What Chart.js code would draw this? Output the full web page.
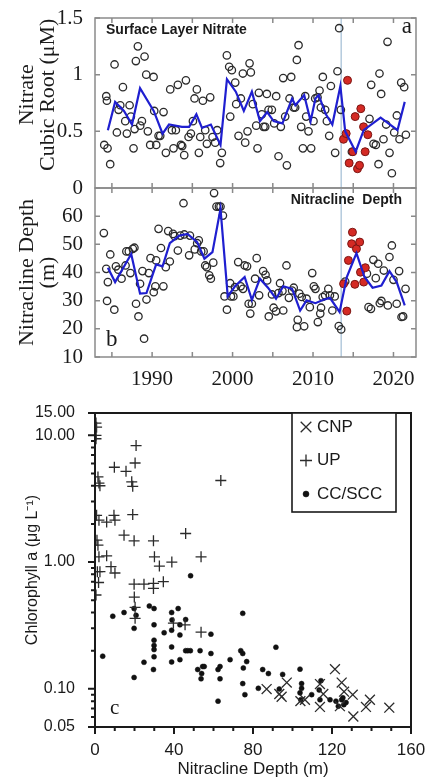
<!DOCTYPE html>
<html>
<head>
<meta charset="utf-8">
<script src="https://cdn.jsdelivr.net/npm/chart.js@4.4.4/dist/chart.umd.min.js"></script>
<style>
  html, body { margin: 0; padding: 0; background: #fff; }
  #wrap { position: relative; width: 427px; height: 778px; overflow: hidden; }
  canvas { position: absolute; left: 0; }
</style>
</head>
<body>
<div id="wrap">
  <canvas id="chart-nitrate" width="427" height="210" style="top:0px"></canvas>
  <canvas id="chart-depth" width="427" height="225" style="top:170px"></canvas>
  <canvas id="chart-chl" width="427" height="388" style="top:390px"></canvas>
</div>
<script>
// ─── Axis ticks ──────────────────────────────────────────────────────────────
const YEAR_TICKS    = [1985, 1990, 1995, 2000, 2005, 2010, 2015, 2020];
const NITRATE_TICKS = [0, 0.5, 1, 1.5];
const DEPTH_TICKS   = [10, 20, 30, 40, 50, 60, 70];
const NCD_TICKS     = [0, 10, 20, 30, 40, 50, 60, 70, 80, 90, 100, 110, 120, 130, 140, 150, 160];
const CHL_TICKS     = [0.05, 0.06, 0.07, 0.08, 0.09, 0.1, 0.2, 0.3, 0.4, 0.5, 0.6, 0.7, 0.8, 0.9,
                       1, 2, 3, 4, 5, 6, 7, 8, 9, 10, 15];
const CHL_LABELLED  = [0.05, 0.1, 1, 10, 15];
const BLOB_YEAR     = 2013.5;   // start of the warm anomaly (vertical line)

// ─── Panel a: surface layer nitrate (cubic root, µM) ─────────────────────────
const nitrateObs = [
  [1984.05,0.38],[1984.46,0.35],[1984.30,0.81],[1984.38,0.77],[1984.79,0.21],[1985.33,1.09],
  [1985.62,0.49],[1985.83,0.69],[1986.04,0.73],[1986.37,0.89],[1986.66,0.59],[1986.86,0.48],
  [1987.20,0.73],[1987.36,0.63],[1987.69,0.35],[1987.82,0.52],[1987.98,1.12],[1988.23,1.25],
  [1988.52,0.55],[1988.73,0.59],[1989.06,1.16],[1989.27,1.00],[1989.47,0.50],[1989.76,0.38],
  [1990.18,0.98],[1990.26,0.68],[1990.51,0.38],[1990.80,0.46],[1991.01,0.46],[1991.42,0.67],
  [1991.71,0.31],[1992.25,0.87],[1992.46,0.51],[1992.66,0.35],[1992.95,0.51],[1993.20,0.91],
  [1993.58,0.38],[1993.74,0.37],[1994.20,0.95],[1993.99,0.29],[1994.53,0.45],[1994.82,0.48],
  [1995.07,0.59],[1995.27,0.79],[1995.56,0.87],[1995.81,0.31],[1995.98,0.45],[1996.31,0.77],
  [1996.60,0.51],[1996.81,0.39],[1997.22,0.80],[1997.51,0.45],[1997.84,0.40],[1998.09,0.51],
  [1998.46,0.22],[1998.67,0.31],[1999.29,1.17],[1999.58,1.07],[1999.91,1.04],[1999.71,0.63],
  [2000.33,0.93],[2000.45,0.74],[2000.74,0.46],[2001.03,0.79],[2001.28,1.01],[2001.57,0.40],
  [2001.86,0.50],[2002.11,1.10],[2002.27,1.02],[2002.52,0.74],[2002.94,0.55],[2003.10,0.35],
  [2003.27,0.84],[2003.64,0.65],[2003.85,0.54],[2004.06,0.54],[2004.26,0.83],[2004.47,0.69],
  [2004.88,0.69],[2005.17,0.57],[2005.42,0.81],[2005.71,0.28],[2006.00,0.54],[2006.29,0.97],
  [2006.54,0.63],[2006.75,0.20],[2007.08,0.79],[2007.29,0.98],[2007.58,0.71],[2007.78,0.71],
  [2007.99,1.13],[2008.20,1.26],[2008.53,0.54],[2008.74,0.35],[2009.03,0.81],[2009.15,0.63],
  [2009.44,0.50],[2009.77,0.35],[2010.06,0.59],[2010.27,0.79],[2010.56,0.80],[2010.81,0.86],
  [2010.97,0.71],[2011.22,0.98],[2011.51,0.69],[2011.72,0.59],[2012.01,0.46],[2012.22,0.90],
  [2012.75,0.31],[2013.04,1.03],[2013.25,1.41],[2013.46,0.69],[2014.83,0.32],[2017.02,0.61],
  [2017.23,0.91],[2017.52,0.39],[2017.81,0.38],[2018.14,0.21],[2018.26,1.01],[2018.47,0.83],
  [2018.76,0.43],[2019.09,0.56],[2019.26,1.29],[2019.51,0.31],[2019.80,0.13],[2020.09,0.49],
  [2020.42,0.64],[2020.75,0.43],[2020.96,0.93],[2021.33,0.89],[2021.54,0.47]
];
const nitrateBlob = [
  [2014.29,0.95],[2013.79,0.43],[2014.12,0.48],[2014.49,0.22],[2014.95,0.32],[2015.24,0.63],
  [2015.53,0.17],[2015.78,0.20],[2015.94,0.70],[2016.28,0.54],[2016.48,0.32],[2016.81,0.47]
];
const nitrateMean = [
  [1984.5,0.51],[1985.4,0.76],[1986.5,0.68],[1987.5,0.56],[1988.5,0.88],[1990.2,0.68],
  [1991.3,0.48],[1992.1,0.56],[1993.7,0.54],[1994.6,0.54],[1995.5,0.65],[1996.2,0.53],
  [1997.3,0.56],[1998.5,0.38],[1999.3,0.96],[2000.4,0.85],[2001.4,0.68],[2002.4,0.85],
  [2003.4,0.59],[2004.3,0.67],[2005.1,0.59],[2006.2,0.57],[2007.4,0.79],[2007.8,0.73],
  [2008.9,0.82],[2009.7,0.59],[2010.3,0.79],[2010.7,0.82],[2011.6,0.65],[2012.4,0.56],
  [2013.4,0.90],[2014.0,0.50],[2015.3,0.32],[2016.3,0.51],[2018.4,0.62],[2020.5,0.51],
  [2021.4,0.76]
];

// ─── Panel b: nitracline depth (m) ───────────────────────────────────────────
const depthObs = [
  [1984.0,54.0],[1984.3,41.3],[1984.5,36.6],[1984.4,29.9],[1984.8,46.4],[1985.3,26.8],
  [1985.5,42.2],[1985.8,41.0],[1986.2,37.8],[1986.7,42.5],[1986.8,47.5],[1987.1,47.5],
  [1987.3,39.8],[1987.6,48.4],[1987.8,48.8],[1988.0,28.9],[1988.3,24.4],[1988.5,36.0],
  [1988.8,40.5],[1989.0,16.5],[1989.3,30.4],[1989.6,39.8],[1989.8,45.1],[1990.2,33.0],
  [1990.4,35.1],[1990.5,44.3],[1990.8,55.5],[1991.1,48.7],[1991.4,35.1],[1991.7,41.9],
  [1992.0,54.7],[1992.2,43.9],[1992.6,53.7],[1992.8,52.9],[1993.2,47.8],[1993.5,53.1],
  [1993.9,64.6],[1994.0,53.5],[1994.6,46.1],[1994.7,53.1],[1995.3,48.2],[1995.6,50.4],
  [1995.8,51.4],[1996.1,47.5],[1996.4,47.5],[1996.6,42.5],[1996.8,41.9],[1997.1,39.0],
  [1997.3,37.8],[1997.6,43.5],[1997.7,68.2],[1998.0,63.4],[1998.3,63.4],[1998.5,63.4],
  [1998.8,60.2],[1999.0,31.5],[1999.3,26.8],[1999.7,36.2],[1999.8,31.5],[2000.1,31.5],
  [2000.3,34.8],[2000.7,43.7],[2001.0,35.1],[2001.3,34.2],[2001.5,42.5],[2001.8,42.2],
  [2002.0,28.9],[2002.2,25.4],[2002.4,28.9],[2002.8,37.8],[2003.0,45.1],[2003.3,31.9],
  [2003.8,40.5],[2004.1,39.2],[2004.3,37.2],[2004.5,24.4],[2004.9,32.2],[2005.1,27.5],
  [2005.4,26.2],[2005.7,32.7],[2005.9,36.2],[2006.2,33.4],[2006.3,26.5],[2006.7,42.5],
  [2007.0,31.0],[2007.4,33.6],[2007.6,34.6],[2008.0,20.6],[2008.1,23.2],[2008.3,32.5],
  [2008.6,31.3],[2008.9,20.9],[2009.2,30.7],[2009.6,27.7],[2009.9,39.8],[2010.1,35.1],
  [2010.3,34.2],[2010.6,22.4],[2010.9,25.4],[2011.0,27.5],[2011.2,31.3],[2011.5,31.9],
  [2011.9,34.2],[2012.1,31.9],[2012.4,26.5],[2012.7,31.5],[2013.2,21.0],[2013.5,19.8],
  [2014.0,36.8],[2016.7,39.6],[2016.9,27.7],[2017.2,27.1],[2017.5,44.5],[2017.8,38.0],
  [2018.1,43.1],[2018.3,29.1],[2018.5,29.9],[2018.8,40.7],[2019.3,28.3],[2019.5,45.5],
  [2019.8,49.6],[2020.0,37.4],[2020.4,28.9],[2020.7,40.5],[2021.0,24.2],[2021.2,24.4],
  [2021.5,34.2]
];
const depthBlob = [
  [2013.8,36.0],[2014.2,26.3],[2014.4,44.3],[2014.9,54.3],[2014.8,50.2],[2015.2,35.8],
  [2015.4,48.4],[2015.8,50.8],[2015.9,40.1],[2016.3,36.6],[2016.5,41.7]
];
const depthMean = [
  [1984.5,41.7],[1985.4,36.6],[1987.4,46.6],[1988.5,32.5],[1989.3,32.7],[1990.5,42.9],
  [1991.3,42.2],[1992.2,50.4],[1993.4,53.1],[1994.4,53.7],[1995.6,50.8],[1996.5,44.9],
  [1997.5,47.2],[1998.5,62.6],[1999.4,31.5],[2000.3,35.1],[2001.5,38.4],[2002.4,30.3],
  [2003.4,37.8],[2004.4,34.6],[2005.4,30.7],[2006.3,35.1],[2007.4,34.2],[2008.4,26.5],
  [2009.2,30.1],[2010.3,29.1],[2011.3,30.3],[2012.1,31.0],[2013.3,26.0],[2014.2,38.4],
  [2015.4,46.9],[2016.4,38.4],[2017.4,34.6],[2018.5,35.4],[2019.5,40.5],[2020.4,36.6],
  [2021.4,28.3]
];

// ─── Panel c: chlorophyll a vs nitracline depth ──────────────────────────────
const chlCNP = [
  [86.9,0.0996],[93.3,0.091],[94.5,0.0866],[97.1,0.112],[106.3,0.082],[113.9,0.109],
  [113.9,0.072],[121.5,0.143],[124.9,0.112],[126.1,0.095],[130.5,0.090],[130.8,0.0605],
  [137.2,0.072],[139.2,0.082],[149.0,0.071],[124.0,0.073],[115.6,0.091],[104.0,0.080]
];
const chlUP = [
  [0.5,12.5],[0.8,11.6],[0.5,10],[0.5,9.4],[1.5,4.7],[2.5,4.0],[2,4.2],[0.8,2.34],[2,2.14],
  [1,1.49],[1.5,1.36],[2,1.10],[1.2,0.84],[2.5,0.84],[1.8,0.69],[0.5,0.55],[5.9,1.12],
  [5.9,2.07],[9.6,2.34],[10.1,2.14],[8.1,0.92],[10.1,0.82],[9.8,5.6],[15.7,5.2],[18.6,4.3],
  [19.1,3.96],[20.3,6.05],[20.8,8.3],[19.1,2.37],[14.7,1.63],[19.8,1.47],[29.6,1.47],
  [30.1,1.10],[32.6,0.93],[38.9,1.0],[45.9,1.68],[53.7,1.10],[63.7,4.4],[34.6,0.70],
  [24.8,0.67],[19.8,0.67],[29.6,0.68],[29.6,0.62],[19.9,0.53],[20.3,0.44],[20.3,0.36],
  [39.7,0.33],[45.6,0.32],[53.7,0.28]
];
const chlCC = [
  [9.0,0.374],[3.9,0.181],[14.7,0.40],[19.8,0.43],[20.8,0.38],[19.8,0.30],[19.8,0.123],
  [24.8,0.162],[27.5,0.45],[29.9,0.43],[29.9,0.32],[29.9,0.242],[29.9,0.22],[29.9,0.204],
  [29.9,0.179],[29.6,0.142],[35.0,0.277],[38.8,0.40],[39.0,0.35],[38.8,0.29],[38.8,0.214],
  [38.8,0.163],[42.1,0.43],[43.0,0.32],[43.0,0.266],[43.0,0.17],[45.9,0.352],[45.9,0.2],
  [47.0,0.2],[48.3,0.2],[48.4,0.78],[53.2,0.2],[52.0,0.142],[54.0,0.132],[54.5,0.15],
  [53.7,0.12],[55.3,0.15],[58.7,0.27],[58.7,0.19],[62.3,0.142],[63.3,0.15],[63.3,0.12],
  [62.3,0.08],[68.4,0.17],[73.8,0.2],[74.8,0.19],[74.8,0.394],[76.8,0.164],[75.1,0.146],
  [74.8,0.11],[75.9,0.09],[82.7,0.101],[84.9,0.142],[87.8,0.132],[91.6,0.213],[93.3,0.0996],
  [95.0,0.13],[103.8,0.143],[104.6,0.11],[104.6,0.101],[103.8,0.093],[104.2,0.082],
  [109.7,0.09],[113.9,0.082],[114.4,0.116],[119.0,0.082],[123.2,0.073],[124.9,0.082],
  [127.1,0.078],[125.5,0.085],[122.0,0.080],[113.5,0.098],[126.0,0.075]
];

// ─── Shared styling ──────────────────────────────────────────────────────────
const SERIF = "'Liberation Serif', 'Times New Roman', serif";
const SANS  = "'Liberation Sans', Arial, sans-serif";
const INK   = '#1a1a1a';
const FRAME = '#8a8a8a';

Chart.defaults.animation = false;
Chart.defaults.color = INK;

const pts = arr => arr.map(([x, y]) => ({ x, y }));

// Box round the plot area with tick marks at every scale tick.
function frameTicks({ color, width, len, minorLen = len, inward, allSides }) {
  return {
    id: 'frameTicks',
    afterDraw(chart) {
      const { ctx, chartArea: a, scales: { x, y } } = chart;
      const dir = inward ? 1 : -1;
      ctx.save();
      ctx.strokeStyle = color;
      ctx.lineWidth = width;
      ctx.strokeRect(a.left, a.top, a.right - a.left, a.bottom - a.top);
      ctx.beginPath();
      x.ticks.forEach(t => {
        const px = x.getPixelForValue(t.value);
        const l = t.label === '' ? minorLen : len;
        ctx.moveTo(px, a.bottom); ctx.lineTo(px, a.bottom - dir * l);
        if (allSides) { ctx.moveTo(px, a.top); ctx.lineTo(px, a.top + dir * l); }
      });
      y.ticks.forEach(t => {
        const py = y.getPixelForValue(t.value);
        const l = t.label === '' ? minorLen : len;
        ctx.moveTo(a.left, py); ctx.lineTo(a.left + dir * l, py);
        if (allSides) { ctx.moveTo(a.right, py); ctx.lineTo(a.right - dir * l, py); }
      });
      ctx.stroke();
      ctx.restore();
    }
  };
}

// Panel captions placed relative to the chart area.
function panelText(items) {
  return {
    id: 'panelText',
    afterDraw(chart) {
      const { ctx, chartArea: a } = chart;
      ctx.save();
      ctx.textBaseline = 'middle';
      items.forEach(it => {
        ctx.font = it.font;
        ctx.fillStyle = it.color || INK;
        ctx.textAlign = it.align;
        const x = it.align === 'right' ? a.right - it.dx : a.left + it.dx;
        const y = it.fromBottom ? a.bottom - it.dy : a.top + it.dy;
        ctx.fillText(it.text, x, y);
      });
      ctx.restore();
    }
  };
}

// Boxed legend in the top right of panel c.
const insetLegend = {
  id: 'insetLegend',
  afterDraw(chart) {
    const { ctx, chartArea: a } = chart;
    const left = a.left + 197, top = a.top, w = 104, h = 99;
    ctx.save();
    ctx.fillStyle = '#fff';
    ctx.fillRect(left, top, w, h);
    ctx.strokeStyle = INK;
    ctx.lineWidth = 1.6;
    ctx.strokeRect(left, top, w, h);
    ctx.font = '17px ' + SANS;
    ctx.textBaseline = 'middle';
    ctx.textAlign = 'left';
    chart.data.datasets.forEach((ds, i) => {
      const cy = top + 14 + i * 33.5;
      ctx.strokeStyle = ds.borderColor;
      ctx.fillStyle = ds.backgroundColor;
      ctx.lineWidth = ds.borderWidth;
      Chart.helpers.drawPoint(ctx, {
        pointStyle: ds.pointStyle, radius: ds.pointRadius + 0.5, borderWidth: ds.borderWidth, rotation: 0
      }, left + 14, cy);
      ctx.fillStyle = INK;
      ctx.fillText(ds.label, left + 25, cy);
    });
    ctx.restore();
  }
};

// ─── Time series panels (a, b) ───────────────────────────────────────────────
function timeSeriesConfig({ obs, blob, mean, yTicks, yLabel, titleLines, xHeight, showYears, topPad, texts }) {
  const yMin = yTicks[0], yMax = yTicks[yTicks.length - 1];
  return {
    type: 'scatter',
    data: {
      datasets: [
        {
          label: 'annual mean', data: pts(mean), showLine: true, order: 0,
          borderColor: '#1f1fd0', borderWidth: 2.2, pointRadius: 0, tension: 0
        },
        {
          label: 'blob', data: pts(blob), order: 1,
          backgroundColor: '#d42a24', borderColor: '#7a1512', borderWidth: 1, pointRadius: 4
        },
        {
          label: 'obs', data: pts(obs), order: 2,
          backgroundColor: 'rgba(0,0,0,0)', borderColor: '#2b2b2b', borderWidth: 1.3, pointRadius: 3.7
        },
        {
          label: 'blob onset', data: pts([[BLOB_YEAR, yMin], [BLOB_YEAR, yMax]]), showLine: true, order: 3,
          borderColor: '#a9c2d8', borderWidth: 1.3, pointRadius: 0
        }
      ]
    },
    options: {
      responsive: false,
      devicePixelRatio: 1,
      layout: { padding: { top: topPad, right: 11, left: 0, bottom: 0 } },
      plugins: { legend: { display: false }, tooltip: { enabled: false } },
      scales: {
        x: {
          type: 'linear', min: 1982.9, max: 2022.8,
          afterBuildTicks: s => { s.ticks = YEAR_TICKS.map(v => ({ value: v })); },
          afterFit: s => { s.height = xHeight; s.paddingLeft = 0; s.paddingRight = 0; },
          grid: { display: false }, border: { display: false },
          ticks: {
            display: showYears, autoSkip: false, maxRotation: 0, padding: 4, color: INK,
            font: { family: SERIF, size: 21, lineHeight: 1 },
            callback: v => (v % 10 === 0 ? String(v) : '')
          }
        },
        y: {
          type: 'linear', min: yMin, max: yMax,
          afterBuildTicks: s => { s.ticks = yTicks.map(v => ({ value: v })); },
          afterFit: s => { s.width = 95; },
          grid: { display: false }, border: { display: false },
          ticks: {
            autoSkip: false, padding: 4, color: INK,
            font: { family: SERIF, size: 21, lineHeight: 1 },
            callback: yLabel
          },
          title: {
            display: true, text: titleLines, color: INK,
            font: { family: SERIF, size: 22, lineHeight: 0.98 },
            padding: { top: 16, bottom: 0 }
          }
        }
      }
    },
    plugins: [
      frameTicks({ color: FRAME, width: 1.5, len: 5, inward: true, allSides: true }),
      panelText(texts)
    ]
  };
}

const NB = '\u00a0\u00a0\u00a0';

new Chart(document.getElementById('chart-nitrate'), timeSeriesConfig({
  obs: nitrateObs, blob: nitrateBlob, mean: nitrateMean,
  yTicks: NITRATE_TICKS, yLabel: v => String(v),
  titleLines: [NB + 'Nitrate', NB + 'Cubic Root (\u03bcM)'],
  xHeight: 22, showYears: false, topPad: 18,
  texts: [
    { text: 'Surface Layer Nitrate', font: 'bold 14px ' + SANS, align: 'left', dx: 11, dy: 12 },
    { text: 'a', font: '23px ' + SERIF, align: 'right', dx: 4, dy: 9 }
  ]
}));

new Chart(document.getElementById('chart-depth'), timeSeriesConfig({
  obs: depthObs, blob: depthBlob, mean: depthMean,
  yTicks: DEPTH_TICKS, yLabel: v => (v === 70 ? '' : String(v)),
  titleLines: ['Nitracline Depth', '(m)'],
  xHeight: 38, showYears: true, topPad: 18,
  texts: [
    { text: 'Nitracline  Depth', font: 'bold 14px ' + SANS, align: 'right', dx: 14, dy: 12 },
    { text: 'b', font: '23px ' + SERIF, align: 'left', dx: 11, dy: 17, fromBottom: true }
  ]
}));

// ─── Chlorophyll scatter (c) ─────────────────────────────────────────────────
new Chart(document.getElementById('chart-chl'), {
  type: 'scatter',
  data: {
    datasets: [
      {
        label: 'CNP', data: pts(chlCNP), pointStyle: 'crossRot', pointRadius: 7,
        borderColor: '#2b2b2b', backgroundColor: '#2b2b2b', borderWidth: 1.3
      },
      {
        label: 'UP', data: pts(chlUP), pointStyle: 'cross', pointRadius: 5.5,
        borderColor: '#2b2b2b', backgroundColor: '#2b2b2b', borderWidth: 1.3
      },
      {
        label: 'CC/SCC', data: pts(chlCC), pointStyle: 'circle', pointRadius: 2.5,
        borderColor: '#111', backgroundColor: '#111', borderWidth: 0.5
      }
    ]
  },
  options: {
    responsive: false,
    devicePixelRatio: 1,
    layout: { padding: { top: 23, right: 16, left: 0, bottom: 0 } },
    plugins: { legend: { display: false }, tooltip: { enabled: false } },
    scales: {
      x: {
        type: 'linear', min: 0, max: 160,
        afterBuildTicks: s => { s.ticks = NCD_TICKS.map(v => ({ value: v })); },
        afterFit: s => { s.height = 51; s.paddingLeft = 0; s.paddingRight = 0; },
        grid: { display: false }, border: { display: false },
        ticks: {
          autoSkip: false, maxRotation: 0, padding: 5, color: INK,
          font: { family: SANS, size: 17 },
          callback: v => (v % 40 === 0 ? String(v) : '')
        },
        title: {
          display: true, text: 'Nitracline Depth (m)', color: INK,
          font: { family: SANS, size: 17, lineHeight: 1 },
          padding: { top: 0, bottom: 0 }
        }
      },
      y: {
        type: 'logarithmic', min: 0.05, max: 15,
        afterBuildTicks: s => { s.ticks = CHL_TICKS.map(v => ({ value: v })); },
        afterFit: s => { s.width = 95; },
        grid: { display: false }, border: { display: false },
        ticks: {
          autoSkip: false, padding: 12, color: INK,
          font: { family: SANS, size: 16, lineHeight: 1 },
          callback: v => (CHL_LABELLED.includes(v) ? v.toFixed(2) : '')
        },
        title: {
          display: true, text: 'Chlorophyll a (\u03bcg L\u207b\u00b9)', color: INK,
          font: { family: SANS, size: 16 },
          padding: { top: 23, bottom: 0 }
        }
      }
    }
  },
  plugins: [
    frameTicks({ color: INK, width: 2, len: 7, minorLen: 4, inward: false, allSides: false }),
    insetLegend,
    panelText([{ text: 'c', font: '21px ' + SERIF, align: 'left', dx: 15, dy: 19, fromBottom: true }])
  ]
});
</script>
</body>
</html>
